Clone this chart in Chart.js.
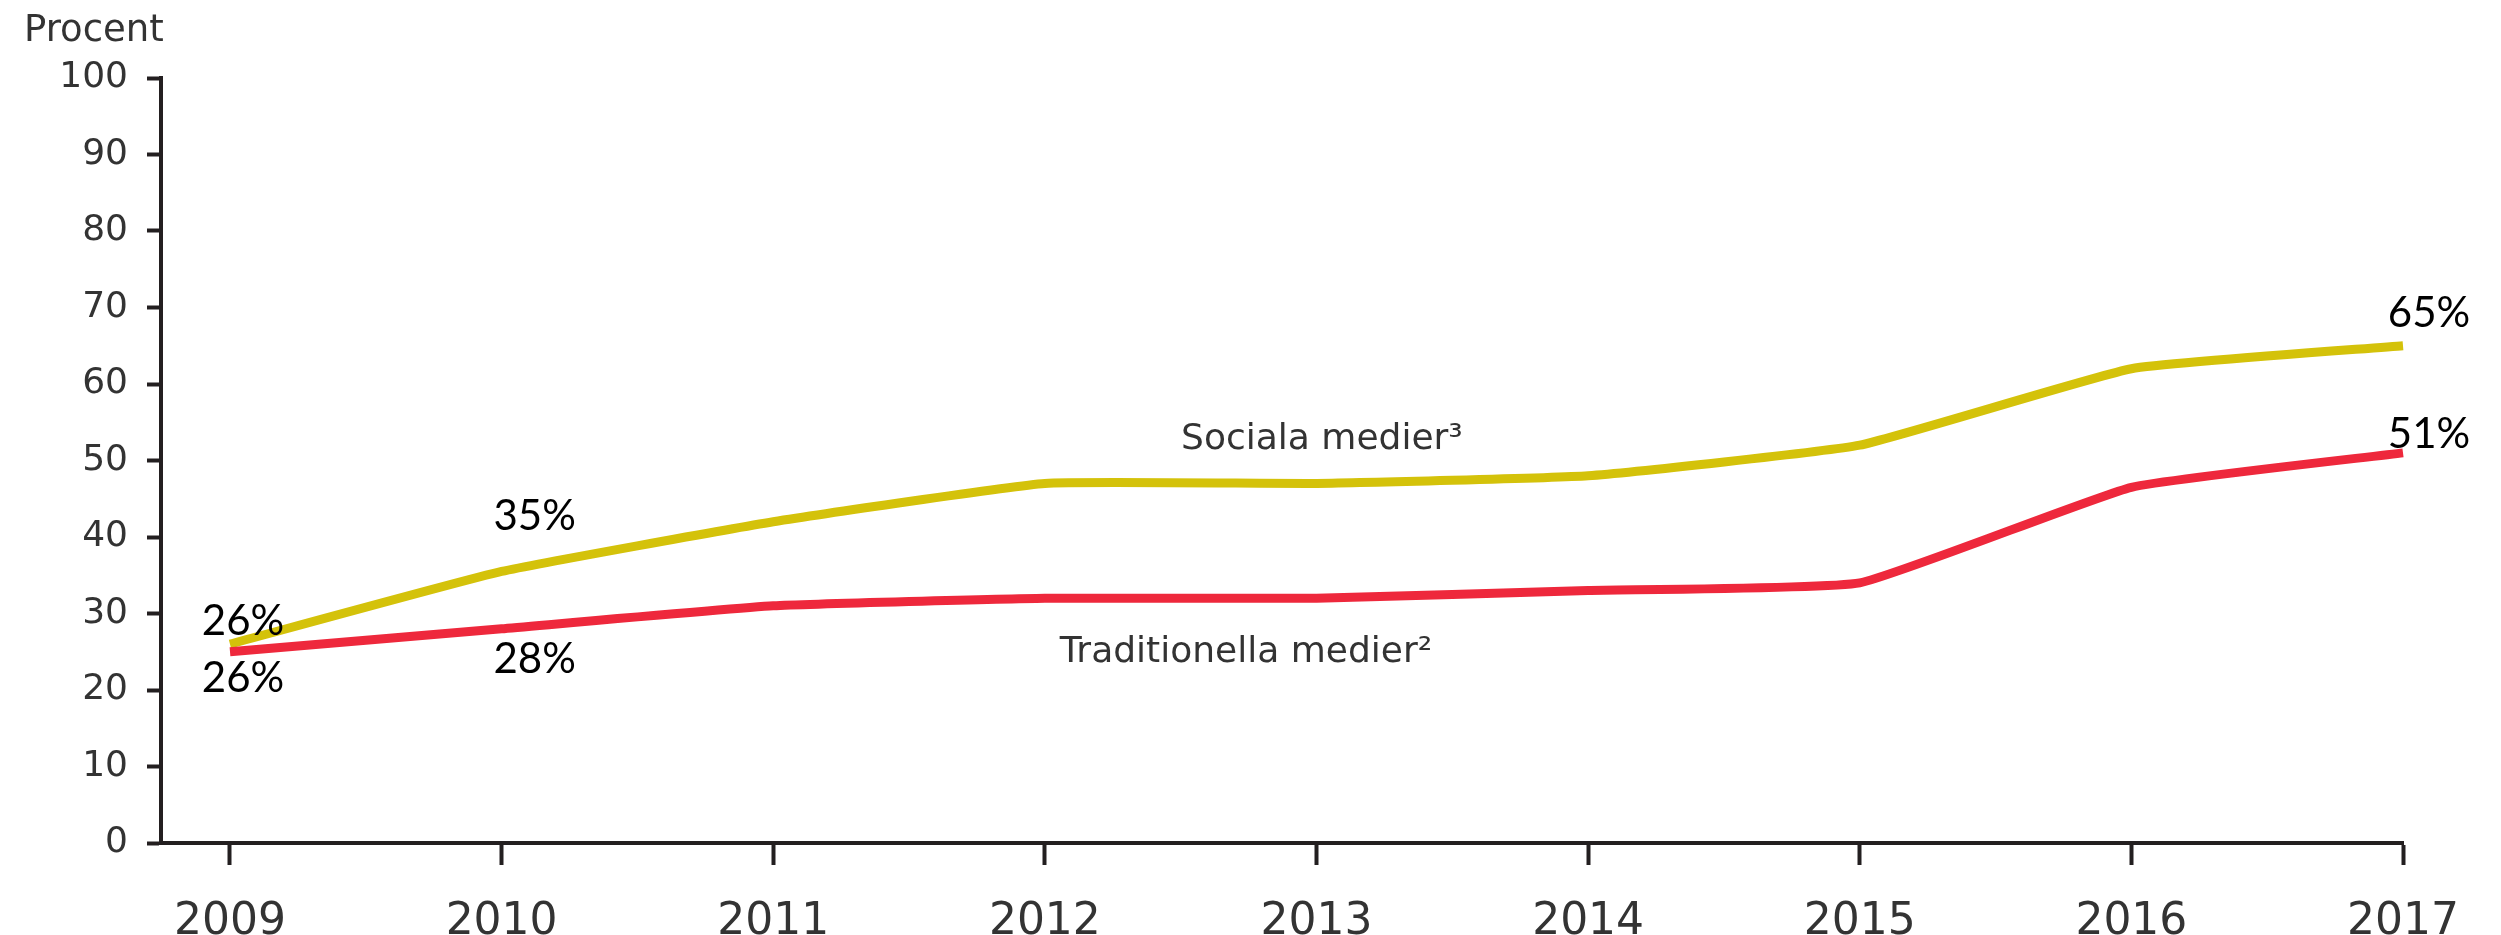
<!DOCTYPE html>
<html>
<head>
<meta charset="utf-8">
<script src="https://cdn.jsdelivr.net/npm/chart.js@4.4.1/dist/chart.umd.min.js"></script>
<style>
  html, body { margin: 0; padding: 0; background: #fff; overflow: hidden; }
</style>
</head>
<body>
<canvas id="chart_canvas" width="2501" height="935"></canvas>
<script>
// data
const years = [2009, 2010, 2011, 2012, 2013, 2014, 2015, 2016, 2017]
const sociala = [26, 35.5, 42, 47, 47, 48, 52, 62, 65]
const traditionella = [25, 28, 31, 32, 32, 33, 34, 46.5, 51]
const yTicks = [0, 10, 20, 30, 40, 50, 60, 70, 80, 90, 100]
const seriesNames = ['Sociala medier³', 'Traditionella medier²']
const yTitle = 'Procent'

// percent call-outs next to some points (series 0 = sociala, 1 = traditionella)
const pctLabels = [
    { series: 0, index: 0, text: '26%', dx: 13, dy: -9 },
    { series: 1, index: 0, text: '26%', dx: 13, dy: 40 },
    { series: 0, index: 1, text: '35%', dx: 33, dy: -41 },
    { series: 1, index: 1, text: '28%', dx: 33, dy: 44 },
    { series: 0, index: 8, text: '65%', dx: 26, dy: -19 },
    { series: 1, index: 8, text: '51%', dx: 26, dy: -5 }
]
// where the series names sit, in axis units (year, percent)
const namePos = [
    { x: 2013.02, y: 51.5 },
    { x: 2012.74, y: 23.65 }
]

const axisColor = '#231F20'
const textColor = '#333'
const tickFont = '"DejaVu Sans"'

const toPoints = (vals) => vals.map((v, i) => ({ x: years[i], y: v }))

const textPlugin = {
    id: 'texts',
    afterDatasetsDraw(chart) {
        const { ctx, scales: { x, y } } = chart
        ctx.save()
        ctx.fillStyle = textColor
        ctx.textBaseline = 'alphabetic'

        // y axis title, top left
        ctx.font = '37px ' + tickFont
        ctx.textAlign = 'left'
        ctx.fillText(yTitle, 24, 41)

        // series names
        ctx.font = '36px ' + tickFont
        ctx.textAlign = 'center'
        seriesNames.forEach((name, i) => {
            ctx.fillText(name, x.getPixelForValue(namePos[i].x), y.getPixelForValue(namePos[i].y))
        })

        // percent labels
        ctx.font = '42px Lato'
        ctx.fillStyle = '#000'
        pctLabels.forEach(l => {
            const pt = chart.getDatasetMeta(l.series).data[l.index]
            ctx.fillText(l.text, pt.x + l.dx, pt.y + l.dy)
        })
        ctx.restore()
    }
}

const ctx = document.getElementById('chart_canvas').getContext('2d')

const config = {
    type: 'line',
    data: {
        datasets: [{
            label: seriesNames[0],
            data: toPoints(sociala),
            borderColor: '#D4C20A',
            borderWidth: 9,
            pointRadius: 0,
            tension: .12,
            order: 2
        }, {
            label: seriesNames[1],
            data: toPoints(traditionella),
            borderColor: '#EE283C',
            borderWidth: 9,
            pointRadius: 0,
            tension: .12,
            order: 1
        }]
    },
    options: {
        responsive: false,
        animation: false,
        clip: false,
        layout: {
            padding: { top: 78, right: 98, left: 0, bottom: 0 }
        },
        scales: {
            x: {
                type: 'linear',
                min: 2008.746,
                max: 2017,
                afterBuildTicks: (s) => { s.ticks = years.map(v => ({ value: v })) },
                afterFit: (s) => { s.height = 92 },
                grid: {
                    drawOnChartArea: false,
                    tickLength: 22,
                    tickWidth: 4,
                    color: axisColor
                },
                border: { display: true, width: 4, color: axisColor },
                ticks: {
                    padding: 31,
                    color: textColor,
                    font: { family: tickFont, size: 44 },
                    maxRotation: 0,
                    autoSkip: false,
                    callback: (v) => String(v)
                }
            },
            y: {
                min: 0,
                max: 100,
                afterBuildTicks: (s) => { s.ticks = yTicks.map(v => ({ value: v })) },
                afterFit: (s) => { s.width = 161 },
                grid: {
                    drawOnChartArea: false,
                    tickLength: 14,
                    tickWidth: 4,
                    color: axisColor
                },
                border: { display: true, width: 4, color: axisColor },
                ticks: {
                    padding: 19,
                    color: textColor,
                    font: { family: tickFont, size: 36 }
                }
            }
        },
        plugins: {
            legend: { display: false },
            tooltip: { enabled: false }
        }
    },
    plugins: [textPlugin]
}

const myChart = new Chart(ctx, config)
</script>
</body>
</html>
